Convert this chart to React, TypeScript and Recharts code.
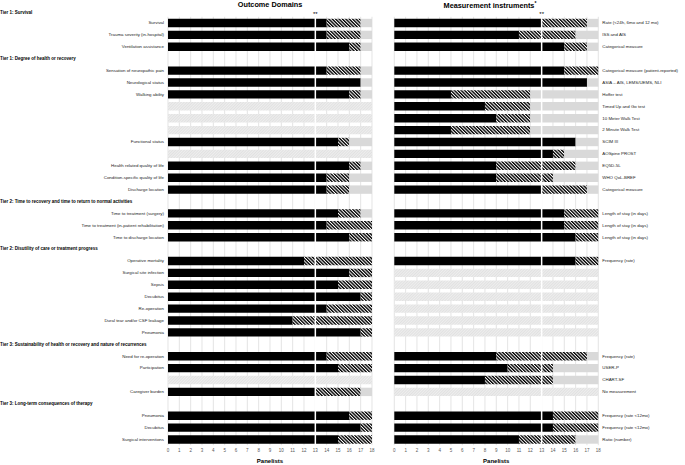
import {
  Bar,
  BarChart,
  CartesianGrid,
  ReferenceLine,
  XAxis,
  YAxis,
} from 'recharts';

// 36 rows, top to bottom (the "Tier 1: Survival" heading sits above the plot)
const leftLabels = [
  'Survival',
  'Trauma severity (in-hospital)',
  'Ventilation assistance',
  'Tier 1: Degree of health or recovery',
  'Sensation of neuropathic pain',
  'Neurological status',
  'Walking ability',
  '',
  '',
  '',
  'Functional status',
  '',
  'Health related quality of life',
  'Condition-specific quality of life',
  'Discharge location',
  'Tier 2: Time to recovery and time to return to normal activities',
  'Time to treatment (surgery)',
  'Time to treatment (in-patient rehabilitation)',
  'Time to discharge location',
  'Tier 2: Disutility of care or treatment progress',
  'Operative mortality',
  'Surgical site infection',
  'Sepsis',
  'Decubitus',
  'Re-operation',
  'Dural tear and/or CSF leakage',
  'Pneumonia',
  'Tier 3: Sustainability of health or recovery and nature of recurrences',
  'Need for re-operation',
  'Participation',
  '',
  'Caregiver burden',
  'Tier 3: Long-term consequences of therapy',
  'Pneumonia',
  'Decubitus',
  'Surgical interventions',
];

const rightLabels = [
  'Rate (<24h, 6mo and 12 mo)',
  'ISS and AIS',
  'Categorical measure',
  '',
  'Categorical measure (patient-reported)',
  'ASIA – AIS, LEMS/UEMS, NLI',
  'Hoffer test',
  'Timed Up and Go test',
  '10 Meter Walk Test',
  '2 Minute Walk Test',
  'SCIM III',
  'AOSpine PROST',
  'EQ5D-5L',
  'WHO QoL-BREF',
  'Categorical measure',
  '',
  'Length of stay (in days)',
  'Length of stay (in days)',
  'Length of stay (in days)',
  '',
  'Frequency (rate)',
  '',
  '',
  '',
  '',
  '',
  '',
  '',
  'Frequency (rate)',
  'USER-P',
  'CHART-SF',
  'No measurement',
  '',
  'Frequency (rate <12mo)',
  'Frequency (rate <12mo)',
  'Ratio (number)',
];

const headerRows = [3, 15, 19, 27, 32];
const leftEmptyRows = [7, 8, 9, 11, 30];
const rightEmptyRows = [21, 22, 23, 24, 25, 26, 31];

const n = null;
const leftAgree = [14, 14, 16, n, 14, 17, 16, n, n, n, 15, n, 16, 14, 14, n, 15, 14, 16, n, 12, 16, 15, 17, 14, 11, 17, n, 14, 15, n, 13, n, 16, 17, 15];
const leftNeutral = [3, 3, 1, n, 3, 0, 1, n, n, n, 1, n, 1, 2, 2, n, 2, 4, 2, n, 6, 2, 3, 1, 4, 7, 1, n, 4, 3, n, 4, n, 2, 1, 3];
const leftOther = [1, 1, 1, n, 1, 1, 1, n, n, n, 2, n, 1, 2, 2, n, 1, 0, 0, n, 0, 0, 0, 0, 0, 0, 0, n, 0, 0, n, 1, n, 0, 0, 0];

const rightAgree = [13, 11, 15, n, 15, 17, 5, 8, 9, 5, 16, 14, 9, 9, 13, n, 15, 15, 16, n, 16, n, n, n, n, n, n, n, 9, 10, 8, n, n, 14, 14, 11];
const rightNeutral = [4, 5, 2, n, 3, 0, 7, 4, 3, 7, 0, 1, 7, 5, 4, n, 3, 3, 2, n, 2, n, n, n, n, n, n, n, 8, 4, 6, n, n, 4, 4, 5];
const rightOther = [1, 2, 1, n, 0, 1, 6, 6, 6, 6, 2, 3, 2, 4, 1, n, 0, 0, 0, n, 0, n, n, n, n, n, n, n, 1, 4, 4, n, n, 0, 0, 2];

const PANELISTS = 18;
const xTicks = Array.from({ length: PANELISTS + 1 }, (_, i) => i);

const FONT = '"Liberation Sans", Arial, sans-serif';
const GRID = '#d9d9d9';

const buildRows = (agree: (number | null)[], neutral: (number | null)[], other: (number | null)[], empty: number[]) =>
  agree.map((a, i) => ({
    id: i,
    agree: a,
    neutral: neutral[i],
    other: other[i],
    none: empty.includes(i) ? PANELISTS : null,
  }));

const leftData = buildRows(leftAgree, leftNeutral, leftOther, leftEmptyRows);
const rightData = buildRows(rightAgree, rightNeutral, rightOther, rightEmptyRows);

const Patterns = () => (
  <defs>
    <pattern id="hatch" patternUnits="userSpaceOnUse" width="2.4" height="2.4" patternTransform="rotate(-45)">
      <rect width="2.4" height="2.4" fill="#ffffff" />
      <rect width="1.4" height="2.4" fill="#000000" />
    </pattern>
    <pattern id="nodata" patternUnits="userSpaceOnUse" width="2" height="2" patternTransform="rotate(45)">
      <rect width="2" height="2" fill="#eeeeee" />
      <rect width="0.8" height="2" fill="#dedede" />
    </pattern>
  </defs>
);

const LeftTick = (props: any) => {
  const { x, y, payload } = props;
  const i = payload.value;
  const label = leftLabels[i];
  if (headerRows.includes(i)) {
    return (
      <text x={0} y={y} dy={1.6} fontSize={4.5} fontWeight={700} fontFamily={FONT} fill="#000" textAnchor="start">
        {label}
      </text>
    );
  }
  return (
    <text x={x} y={y} dy={1.6} fontSize={4.4} fontFamily={FONT} fill="#222" textAnchor="end">
      {label}
    </text>
  );
};

const RightTick = (props: any) => {
  const { x, y, payload } = props;
  return (
    <text x={x} y={y} dy={1.6} fontSize={4.4} fontFamily={FONT} fill="#222" textAnchor="start">
      {rightLabels[payload.value]}
    </text>
  );
};

const series = (
  <>
    <Bar dataKey="agree" stackId="s" fill="#000000" isAnimationActive={false} />
    <Bar dataKey="neutral" stackId="s" fill="url(#hatch)" isAnimationActive={false} />
    <Bar dataKey="other" stackId="s" fill="#d9d9d9" isAnimationActive={false} />
    <Bar dataKey="none" stackId="s" fill="url(#nodata)" isAnimationActive={false} />
  </>
);

const xAxisProps = {
  type: 'number' as const,
  domain: [0, PANELISTS],
  ticks: xTicks,
  interval: 0,
  axisLine: false,
  tickLine: false,
  tickSize: 0,
  tickMargin: 4,
  height: 18,
  tick: { fontSize: 4.5, fill: '#595959', fontFamily: FONT },
  label: { value: 'Panelists', position: 'insideBottom' as const, offset: 0, fontSize: 6, fontWeight: 700, fill: '#000', fontFamily: FONT },
};

const CHART_H = 465;
const MARGIN_TOP = 16.8;

export default function App() {
  return (
    <div style={{ position: 'absolute', left: 0, top: 0, width: 685, height: 465, background: '#fff', fontFamily: FONT }}>
      <div style={{ position: 'absolute', left: 168, width: 204, top: 0, textAlign: 'center', fontSize: 7.3, fontWeight: 700 }}>
        Outcome Domains
      </div>
      <div style={{ position: 'absolute', left: 390, width: 200, top: 0, textAlign: 'center', fontSize: 7.3, fontWeight: 700 }}>
        Measurement instruments<sup style={{ fontSize: 5 }}>*</sup>
      </div>
      <div style={{ position: 'absolute', left: 0, top: 10, fontSize: 4.5, fontWeight: 700 }}>Tier 1: Survival</div>

      <div style={{ position: 'absolute', left: 0, top: 0 }}>
        <BarChart
          width={380}
          height={CHART_H}
          data={leftData}
          layout="vertical"
          barSize={8.4}
          margin={{ top: MARGIN_TOP, right: 8, left: 0, bottom: 1.8 }}
        >
          <Patterns />
          <CartesianGrid horizontal={false} stroke={GRID} strokeWidth={0.7} />
          <XAxis {...xAxisProps} />
          <YAxis
            type="category"
            dataKey="id"
            width={168}
            interval={0}
            axisLine={false}
            tickLine={false}
            tickSize={0}
            tickMargin={4}
            tick={(p: any) => <LeftTick {...p} />}
          />
          {series}
          <ReferenceLine
            x={13}
            stroke="#ffffff"
            strokeWidth={1.5}
            label={{ value: '**', position: 'top', offset: 1, fontSize: 6, fill: '#000' }}
          />
        </BarChart>
      </div>

      <div style={{ position: 'absolute', left: 380, top: 0 }}>
        <BarChart
          width={305}
          height={CHART_H}
          data={rightData}
          layout="vertical"
          barSize={8.4}
          margin={{ top: MARGIN_TOP, right: 0, left: 14.3, bottom: 1.8 }}
        >
          <Patterns />
          <CartesianGrid horizontal={false} stroke={GRID} strokeWidth={0.7} />
          <XAxis {...xAxisProps} />
          <YAxis
            type="category"
            dataKey="id"
            orientation="right"
            width={86.7}
            interval={0}
            axisLine={false}
            tickLine={false}
            tickSize={0}
            tickMargin={4}
            tick={(p: any) => <RightTick {...p} />}
          />
          {series}
          <ReferenceLine
            x={13}
            stroke="#ffffff"
            strokeWidth={1.5}
            label={{ value: '**', position: 'top', offset: 1, fontSize: 6, fill: '#000' }}
          />
        </BarChart>
      </div>
    </div>
  );
}
